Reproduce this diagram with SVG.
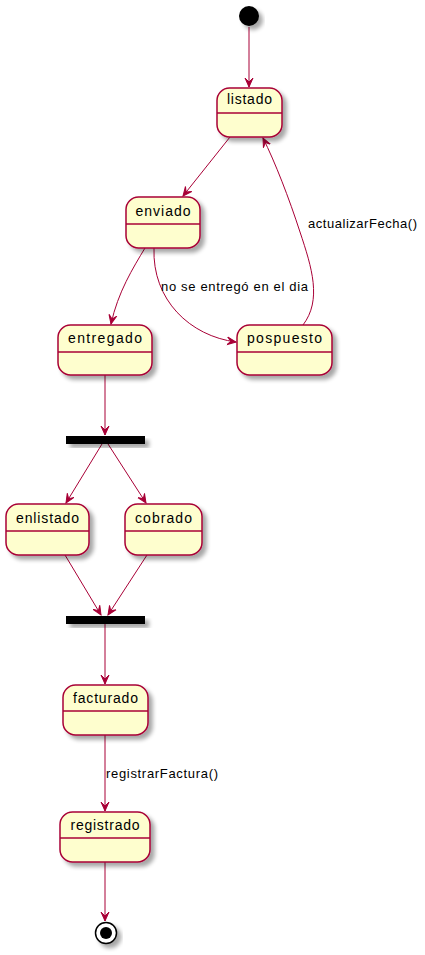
<svg xmlns="http://www.w3.org/2000/svg" width="425" height="955" viewBox="0 0 425 955">
<style>
.st{fill:#FEFECE;stroke:#A80036;stroke-width:1.5;filter:url(#sh)}
.dv{stroke:#A80036;stroke-width:1.5}
.nm{font-family:"Liberation Sans",Arial,sans-serif;font-size:14px;fill:#000;text-anchor:middle}
.lb{font-family:"Liberation Sans",Arial,sans-serif;font-size:13px;fill:#000}
.cn path,.cn line{fill:none;stroke:#A80036;stroke-width:1;marker-end:url(#ah)}
.bar{fill:#000;filter:url(#sh)}
</style>
<defs>
<filter id="sh" x="-20%" y="-20%" width="150%" height="160%">
<feGaussianBlur in="SourceAlpha" stdDeviation="2"/>
<feOffset dx="4" dy="4"/>
<feComponentTransfer><feFuncA type="linear" slope="0.35"/></feComponentTransfer>
<feMerge><feMergeNode/><feMergeNode in="SourceGraphic"/></feMerge>
</filter>
<marker id="ah" viewBox="0 0 10 10" refX="9" refY="5" markerWidth="10" markerHeight="10" markerUnits="userSpaceOnUse" orient="auto">
<path d="M0,1 L9,5 L0,9 L4,5 Z" fill="#A80036" stroke="#A80036" stroke-width="1"/>
</marker>
</defs>
<g id="connectors" class="cn">
<line x1="249" y1="27" x2="249" y2="87"/>
<line x1="230" y1="137" x2="183" y2="196"/>
<path d="M145,248 C133,268 118,292 111,324"/>
<path d="M154,248 C152,300 190,336 236,342"/>
<path d="M303,325 C322,300 312,268 300,232 C289,198 275,162 263,138"/>
<line x1="105" y1="375" x2="105" y2="435"/>
<line x1="102" y1="444" x2="66" y2="503"/>
<line x1="108" y1="444" x2="146" y2="503"/>
<line x1="65" y1="555" x2="101" y2="615"/>
<line x1="147" y1="555" x2="108" y2="615"/>
<line x1="105" y1="624" x2="105" y2="684"/>
<line x1="105" y1="735" x2="105" y2="811"/>
<line x1="105" y1="862" x2="105" y2="921"/>
</g>
<g id="labels">
<text class="lb" x="308" y="228" textLength="109" lengthAdjust="spacing">actualizarFecha()</text>
<text class="lb" x="161" y="291" textLength="147" lengthAdjust="spacing">no se entregó en el dia</text>
<text class="lb" x="106" y="778" textLength="112" lengthAdjust="spacing">registrarFactura()</text>
</g>
<g id="start"><circle cx="249" cy="16" r="10" fill="#000" filter="url(#sh)"/></g>
<g id="listado"><rect class="st" x="217" y="88" width="65" height="49" rx="12.5"/><line class="dv" x1="217" y1="113" x2="282" y2="113"/><text class="nm" x="249.5" y="104" textLength="45" lengthAdjust="spacing">listado</text></g>
<g id="enviado"><rect class="st" x="126" y="197" width="74" height="51" rx="12.5"/><line class="dv" x1="126" y1="224" x2="200" y2="224"/><text class="nm" x="163" y="216" textLength="55" lengthAdjust="spacing">enviado</text></g>
<g id="entregado"><rect class="st" x="58" y="325" width="94" height="50" rx="12.5"/><line class="dv" x1="58" y1="352" x2="152" y2="352"/><text class="nm" x="105" y="343" textLength="74" lengthAdjust="spacing">entregado</text></g>
<g id="pospuesto"><rect class="st" x="237" y="325" width="95" height="50" rx="12.5"/><line class="dv" x1="237" y1="352" x2="332" y2="352"/><text class="nm" x="284.5" y="343" textLength="75" lengthAdjust="spacing">pospuesto</text></g>
<g id="fork1"><rect class="bar" x="66" y="436" width="79" height="8"/></g>
<g id="enlistado"><rect class="st" x="6" y="504" width="83" height="51" rx="12.5"/><line class="dv" x1="6" y1="531" x2="89" y2="531"/><text class="nm" x="47.5" y="523" textLength="63" lengthAdjust="spacing">enlistado</text></g>
<g id="cobrado"><rect class="st" x="125" y="504" width="77" height="51" rx="12.5"/><line class="dv" x1="125" y1="531" x2="202" y2="531"/><text class="nm" x="163.5" y="523" textLength="57" lengthAdjust="spacing">cobrado</text></g>
<g id="join1"><rect class="bar" x="66" y="616" width="79" height="8"/></g>
<g id="facturado"><rect class="st" x="63" y="685" width="85" height="50" rx="12.5"/><line class="dv" x1="63" y1="711" x2="148" y2="711"/><text class="nm" x="105.5" y="703" textLength="65" lengthAdjust="spacing">facturado</text></g>
<g id="registrado"><rect class="st" x="60" y="812" width="90" height="50" rx="12.5"/><line class="dv" x1="60" y1="838" x2="150" y2="838"/><text class="nm" x="105" y="830" textLength="69" lengthAdjust="spacing">registrado</text></g>
<g id="end"><circle cx="106" cy="933" r="10.5" fill="#fff" stroke="#000" stroke-width="1.5" filter="url(#sh)"/><circle cx="106" cy="933" r="6" fill="#000"/></g>
</svg>
